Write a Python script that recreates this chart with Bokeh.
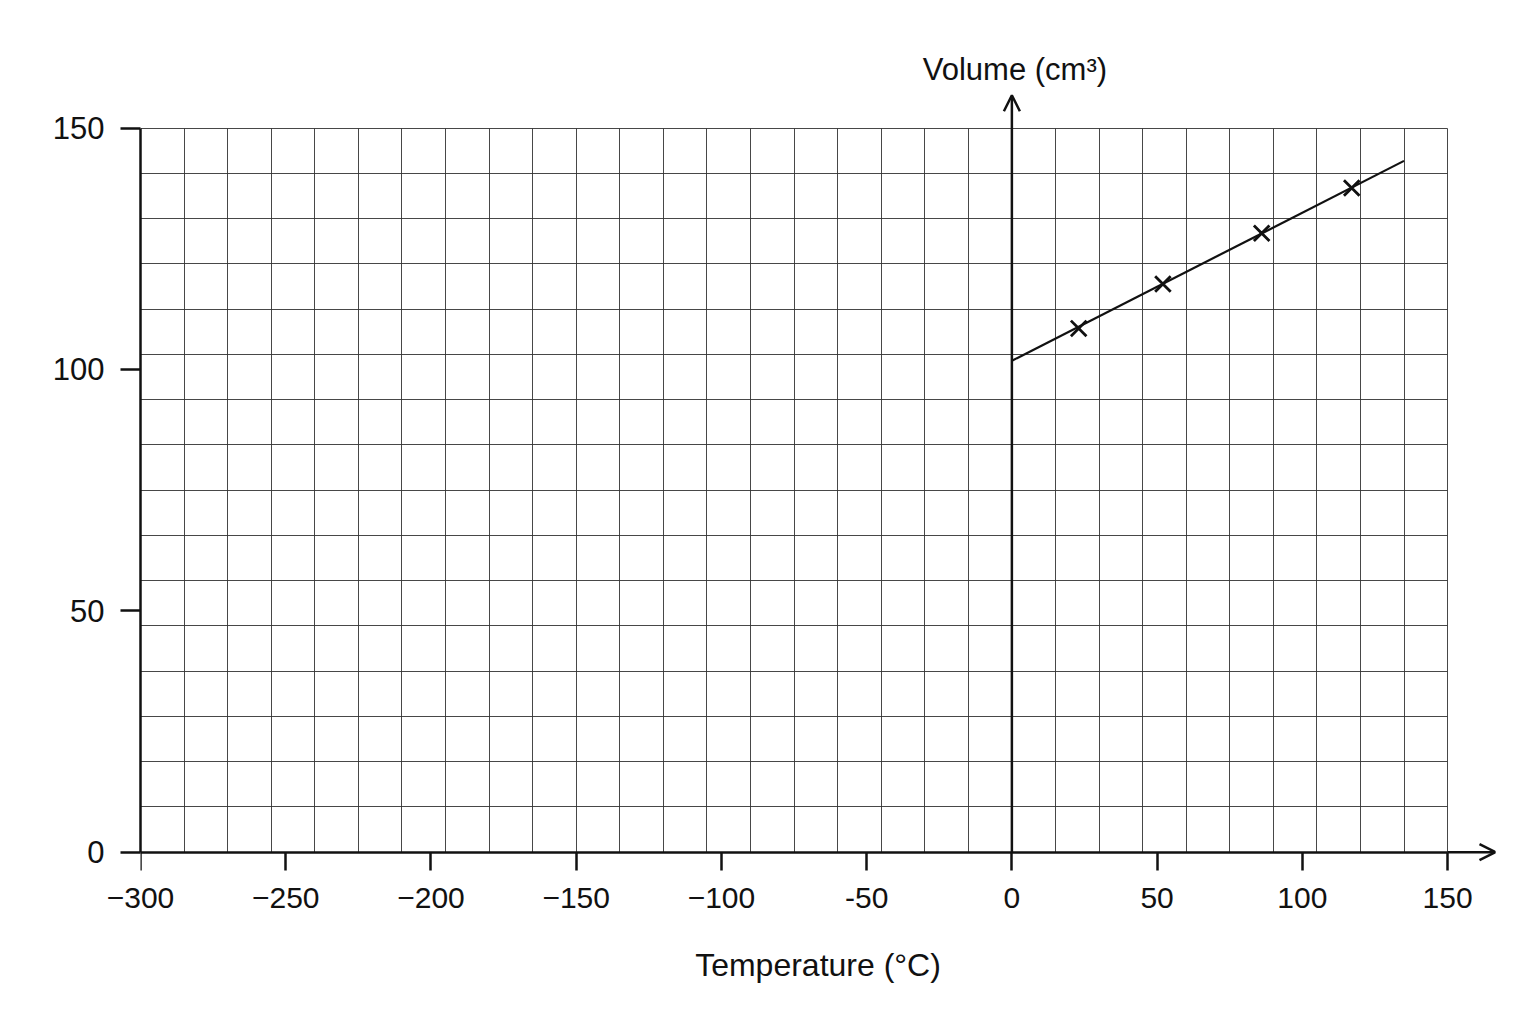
from bokeh.plotting import figure
from bokeh.models import (Range1d, FixedTicker, SingleIntervalTicker, Arrow, OpenHead,
                          Label, LinearAxis)
from bokeh.embed import file_html
from bokeh.resources import INLINE

# Readings taken off the graph
temperature = [23, 52, 86, 117]            # °C
volume = [108.5, 117.7, 128.2, 137.6]      # cm3
fit_temperature = [0, 135]                 # ends of the drawn line
fit_volume = [101.8, 143.2]

x_ticks = [-300, -250, -200, -150, -100, -50, 0, 50, 100, 150]
x_tick_labels = ["−300", "−250", "−200", "−150", "−100", "-50", "0", "50", "100", "150"]
y_ticks = [0, 50, 100, 150]

x_min, x_max = -300, 150
y_min, y_max = 0, 150
x_arrow_end = 166.5
y_arrow_end = 156.8

FONT = "Liberation Sans"
INK = "#111111"

# frame is a bit larger than the grid so the axis arrows and the
# y title sit inside it
p = figure(
    width=1520, height=1020,
    x_range=Range1d(x_min, x_arrow_end), y_range=Range1d(-4, 170),
    min_border_left=140, min_border_right=25,
    min_border_top=31, min_border_bottom=149,
    background_fill_color="white", border_fill_color="white",
    outline_line_color=None,
    toolbar_location=None, output_backend="svg",
)

# grid paper
p.xgrid.ticker = SingleIntervalTicker(interval=15)
p.ygrid.ticker = SingleIntervalTicker(interval=150 / 16)
p.xgrid.bounds = (x_min, x_max + 0.01)
p.xgrid.cross_bounds = (y_min, y_max)
p.ygrid.bounds = (y_min - 0.01, y_max + 0.01)
p.ygrid.cross_bounds = (x_min, x_max)
for g in (p.xgrid, p.ygrid):
    g.grid_line_color = "#333333"
    g.grid_line_width = 1
    g.grid_line_alpha = 0.9

# y axis
yax = p.yaxis[0]
yax.ticker = FixedTicker(ticks=y_ticks)
yax.bounds = (y_min, y_max)
yax.axis_line_color = INK
yax.axis_line_width = 2.5
yax.major_tick_line_color = INK
yax.major_tick_line_width = 2.5
yax.major_tick_in = 0
yax.major_tick_out = 20
yax.minor_tick_line_color = None
yax.major_label_text_font = FONT
yax.major_label_text_font_size = "31px"
yax.major_label_text_color = INK
yax.major_label_standoff = 16

# x axis: labels and title sit under the frame
xlab = p.xaxis[0]
xlab.ticker = FixedTicker(ticks=x_ticks)
xlab.major_label_overrides = dict(zip(x_ticks, x_tick_labels))
xlab.axis_line_color = None
xlab.major_tick_line_color = None
xlab.minor_tick_line_color = None
xlab.major_tick_in = 0
xlab.major_tick_out = 0
xlab.major_label_standoff = 16
xlab.major_label_text_font = FONT
xlab.major_label_text_font_size = "30px"
xlab.major_label_text_color = INK
xlab.axis_label = "Temperature (°C)"
xlab.axis_label_text_font = FONT
xlab.axis_label_text_font_size = "32px"
xlab.axis_label_text_font_style = "normal"
xlab.axis_label_text_color = INK
xlab.axis_label_standoff = 36

# x axis line and ticks pinned at V = 0
xline = LinearAxis(
    fixed_location=y_min, bounds=(x_min, x_max),
    ticker=FixedTicker(ticks=x_ticks),
    axis_line_color=INK, axis_line_width=2.5,
    major_tick_line_color=INK, major_tick_line_width=2.5,
    major_tick_in=0, major_tick_out=18,
    minor_tick_line_color=None,
    major_label_text_font_size="1px", major_label_text_alpha=0,
    major_label_standoff=0,
)
p.add_layout(xline, "below")

# arrows on the axes
p.add_layout(Arrow(end=OpenHead(size=16, line_width=2.5, line_color=INK),
                   x_start=x_max, y_start=y_min, x_end=x_arrow_end, y_end=y_min,
                   line_color=INK, line_width=2.5))
p.add_layout(Arrow(end=OpenHead(size=16, line_width=2.5, line_color=INK),
                   x_start=0, y_start=y_min, x_end=0, y_end=y_arrow_end,
                   line_color=INK, line_width=2.5))

p.add_layout(Label(x=0, y=y_arrow_end, x_offset=3, y_offset=26, text="Volume (cm³)",
                   text_align="center", text_baseline="alphabetic",
                   text_font=FONT, text_font_size="31px", text_color=INK))

# data
p.line(fit_temperature, fit_volume, line_color=INK, line_width=2.2)
p.scatter(temperature, volume, marker="x", size=22, line_color=INK, line_width=2.8)

open("out.html", "w").write(file_html(p, INLINE))
